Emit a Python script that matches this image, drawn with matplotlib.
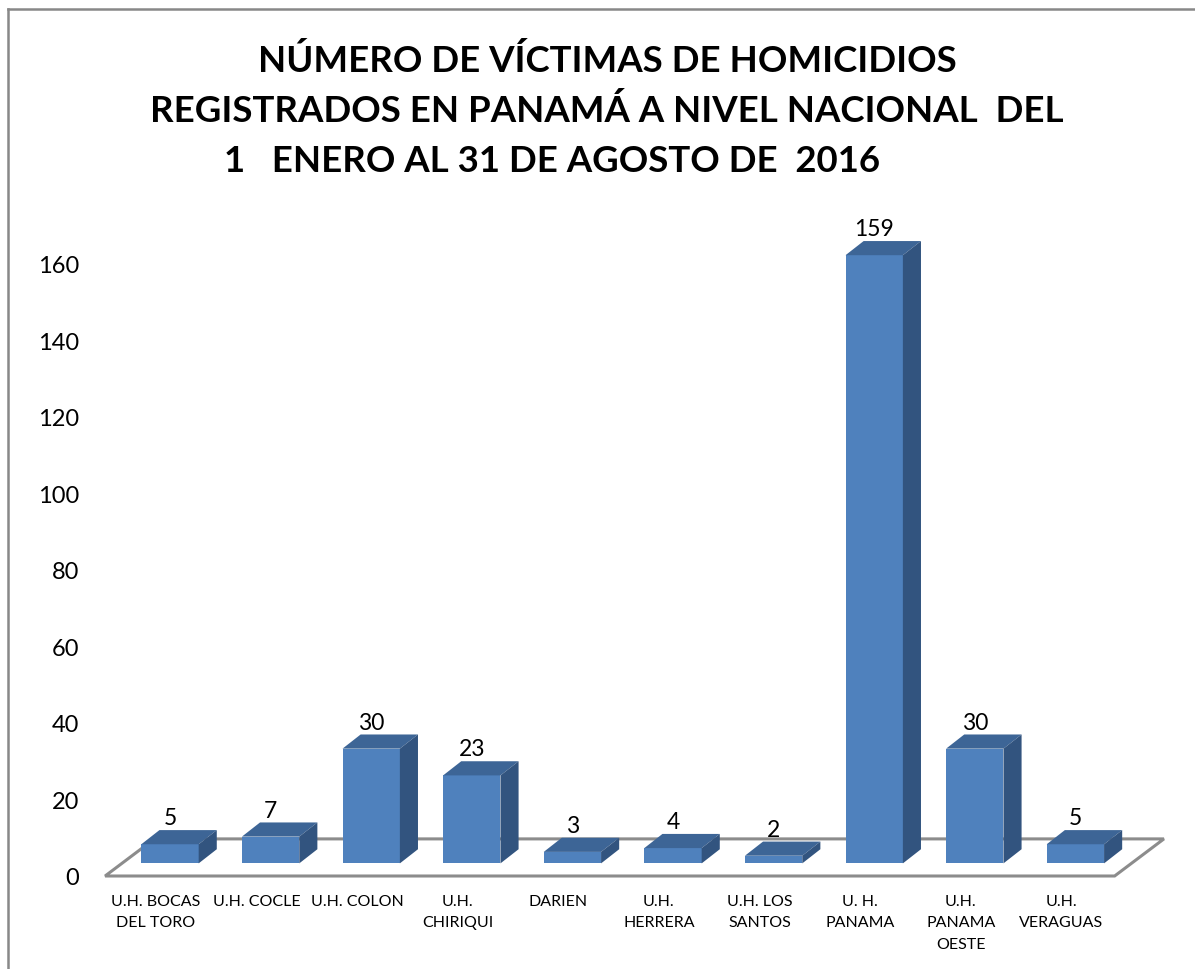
import numpy as np
import matplotlib.pyplot as plt
from matplotlib.patches import Polygon
from matplotlib.lines import Line2D

plt.rcParams['font.family'] = ['Lato', 'DejaVu Sans']

categories = ['U.H. BOCAS\nDEL TORO', 'U.H. COCLE', 'U.H. COLON', 'U.H.\nCHIRIQUI', 'DARIEN',
              'U.H.\nHERRERA', 'U.H. LOS\nSANTOS', 'U. H.\nPANAMA', 'U.H.\nPANAMA\nOESTE', 'U.H.\nVERAGUAS']
victims = [5, 7, 30, 23, 3, 4, 2, 159, 30, 5]
yticks = [0, 20, 40, 60, 80, 100, 120, 140, 160]

title_lines = ['NÚMERO DE VÍCTIMAS DE HOMICIDIOS',
               'REGISTRADOS EN PANAMÁ A NIVEL NACIONAL  DEL',
               '1   ENERO AL 31 DE AGOSTO DE  2016']

W, H = 1195, 970
fig = plt.figure(figsize=(W / 100, H / 100), dpi=100)

# axes placed so that one category = ~100.6 px and one unit = ~3.825 px
ax_l, ax_r, ax_t, ax_b = 90, 1185, 195, 965
ax = fig.add_axes([ax_l / W, 1 - ax_b / H, (ax_r - ax_l) / W, (ax_b - ax_t) / H])
px_x, px_y = 100.6, 3.825
x0_px, y0_px = 170, 877
ax.set_xlim((ax_l - x0_px) / px_x, (ax_r - x0_px) / px_x)
ax.set_ylim((y0_px - ax_b) / px_y, (y0_px - ax_t) / px_y)

front = '#4F81BD'
top_c = '#3D6596'
side_c = '#32547F'

# pseudo 3D geometry (in data units)
width = 0.57
base = 3.3          # bars sit a bit behind the front edge of the floor
ddx, ddy = 0.18, 3.7
fdx, fdy = 0.49, 9.7

x = np.arange(len(categories))

# floor
fl, fr = -0.645, len(categories) - 1 + 0.39
floor = Polygon([(fl, 0), (fr, 0), (fr + fdx, fdy), (fl + fdx, fdy)], closed=True,
                facecolor='white', edgecolor='#8C8C8C', lw=2.2, zorder=1)
ax.add_patch(floor)

ax.bar(x, victims, width=width, bottom=base, color=front, zorder=3)
for xi, v in zip(x, victims):
    l, r = xi - width / 2, xi + width / 2
    t = base + v
    ax.add_patch(Polygon([(l, t), (r, t), (r + ddx, t + ddy), (l + ddx, t + ddy)],
                         closed=True, facecolor=top_c, edgecolor='none', zorder=3))
    ax.add_patch(Polygon([(r, base), (r + ddx, base + ddy), (r + ddx, t + ddy), (r, t)],
                         closed=True, facecolor=side_c, edgecolor='none', zorder=3))
    ax.text(xi, t + ddy + 0.5, str(v), ha='center', va='bottom', fontsize=16.5, color='black', zorder=4)

for xi, lab in zip(x, categories):
    ax.text(xi - 0.14, -4.6, lab, ha='center', va='top', fontsize=11.5, linespacing=1.7)

ax.set_yticks(yticks)
ax.set_yticklabels([str(t) for t in yticks], fontsize=17)
ax.tick_params(axis='y', length=0, pad=8)
ax.set_xticks([])
for s in ax.spines.values():
    s.set_visible(False)
ax.patch.set_alpha(0)

# titles
tfs = 26.4
fig.text(607 / W, 1 - 61 / H, title_lines[0], ha='center', va='center', fontsize=tfs, fontweight='bold')
fig.text(607 / W, 1 - 111 / H, title_lines[1], ha='center', va='center', fontsize=tfs, fontweight='bold')
fig.text(224 / W, 1 - 161 / H, title_lines[2], ha='left', va='center', fontsize=tfs, fontweight='bold')

# outer frame (left and top visible)
fig.add_artist(Line2D([8 / W, 8 / W], [0, 1 - 10 / H], transform=fig.transFigure, color='#888888', lw=1.8))
fig.add_artist(Line2D([8 / W, 1], [1 - 10 / H, 1 - 10 / H], transform=fig.transFigure, color='#888888', lw=1.8))

fig.savefig('out.png', dpi=100)
